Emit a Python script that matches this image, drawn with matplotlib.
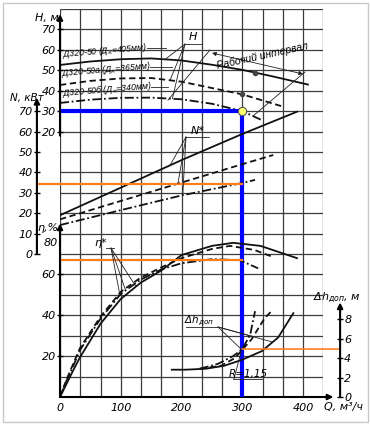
import matplotlib.pyplot as plt
import numpy as np
from matplotlib.patches import Rectangle
from matplotlib.lines import Line2D

plt.rcParams['font.family'] = ['DejaVu Sans']
plt.rcParams['font.style'] = 'italic'
plt.rcParams['mathtext.fontset'] = 'dejavusans'
narrow = ['Liberation Sans', 'DejaVu Sans']

# Напор H, м (Д320-50, Д320-50а, Д320-50б)
q_h1 = [0, 50, 100, 150, 200, 250, 300, 350, 408]
h1 = [52.6, 54.3, 55.4, 55.8, 54.8, 52.7, 50.2, 47.0, 43.0]
q_h2 = [0, 50, 100, 150, 200, 250, 300, 367]
h2 = [42.8, 44.8, 46.0, 46.2, 44.4, 41.3, 38.2, 32.2]
q_h3 = [0, 50, 100, 150, 200, 250, 300, 332]
h3 = [34.0, 35.6, 36.5, 36.6, 35.8, 33.6, 30.0, 25.6]

# Мощность N, кВт
q_n1 = [0, 100, 200, 300, 390]
n1 = [19.0, 32.5, 46.0, 58.8, 69.7]
q_n2 = [0, 100, 200, 300, 351]
n2 = [17.0, 26.0, 35.0, 44.0, 48.5]
q_n3 = [0, 100, 200, 300, 321]
n3 = [14.2, 21.5, 28.7, 34.8, 36.3]

# КПД, %
q_e1 = [0, 10, 20, 33, 67, 100, 133, 167, 200, 250, 285, 330, 390]
e1 = [0, 6, 12, 19.5, 36, 48, 56, 62, 69.5, 74, 75.5, 74, 68]
q_e2 = [0, 10, 20, 33, 67, 100, 133, 167, 200, 250, 280, 320, 351]
e2 = [0, 8, 15, 24, 39.5, 51.5, 58.5, 63.5, 68, 72.5, 74, 72, 68.5]
q_e3 = [0, 10, 20, 33, 67, 100, 133, 167, 200, 250, 296, 326]
e3 = [0, 7.5, 14, 23, 38.5, 50.5, 57.5, 62.5, 65.5, 67.5, 67, 63]

# Допустимый кавитационный запас, м
q_d1 = [184, 206, 240, 270, 299, 332, 359, 384]
d1 = [2.8, 2.8, 2.9, 3.2, 3.8, 4.7, 6.1, 8.6]
q_d2 = [230, 265, 288, 315, 337, 348]
d2 = [2.9, 3.2, 4.0, 5.9, 8.1, 8.8]
q_d3 = [230, 260, 285, 300, 313, 321]
d3 = [2.9, 3.4, 4.2, 4.9, 6.4, 8.8]

# рабочая точка
q_op = 300
h_op = 30
n_op = 34.5
e_op = 67
d_op = 4.9

h_ticks = [20, 30, 40, 50, 60, 70]
n_ticks = [0, 10, 20, 30, 40, 50, 60, 70]
e_ticks = [20, 40, 60]
d_ticks = [0, 2, 4, 6, 8]
q_ticks = [0, 100, 200, 300, 400]

W, Hpx = 370, 424
fig = plt.figure(figsize=(W / 100, Hpx / 100), dpi=100)
pos = [60 / W, 1 - 397 / Hpx, 263.3 / W, 388 / Hpx]
q_max = 1300 / 3


def fp(x, y):
    return (x / W, 1 - y / Hpx)


# рамка
fig.patches.append(Rectangle(fp(2.5, 421.5), 365 / W, 419 / Hpx, transform=fig.transFigure,
                             fill=False, ec='#c8c8c8', lw=1))

ax = fig.add_axes(pos)
ax.set_xlim(0, q_max)
ax.set_ylim(0, 19)
for s in ax.spines.values():
    s.set_visible(False)
ax.set_facecolor('none')
ax.vlines(np.arange(14) * 100 / 3, 0, 19, color='#3c3c3c', lw=0.9, zorder=0)
ax.hlines(np.arange(20), 0, q_max, color='#3c3c3c', lw=0.9, zorder=0)
ax.set_xticks(q_ticks)
ax.set_xticklabels([str(v) for v in q_ticks])
ax.tick_params(axis='x', length=0, pad=4, labelsize=8)
ax.set_yticks([])


def overlay(ylim):
    a = fig.add_axes(pos, facecolor='none')
    a.set_xlim(0, q_max)
    a.set_ylim(ylim)
    for s in a.spines.values():
        s.set_visible(False)
    a.tick_params(bottom=False, labelbottom=False, left=False, labelleft=False)
    return a


ax_h = overlay((-110, 80))
ax_n = overlay((-70, 120))
ax_e = overlay((0, 190))
ax_d = overlay((0, 39.8))

tk = dict(direction='inout', length=4, width=1, labelsize=8, pad=1)
ax_h.set_yticks(h_ticks)
ax_h.tick_params(left=True, labelleft=True, **tk)
ax_n.spines['left'].set_position(('data', -38))
ax_n.set_yticks(n_ticks)
ax_n.tick_params(left=True, labelleft=True, **tk)
ax_e.set_yticks(e_ticks)
ax_e.tick_params(left=True, labelleft=True, **tk)
ax_d.spines['right'].set_position(('data', 461))
ax_d.set_yticks(d_ticks)
ax_d.tick_params(right=True, labelright=True, **tk)

arr = dict(arrowstyle='-|>', lw=1.5, color='k', mutation_scale=8, shrinkA=0, shrinkB=0)
ax_h.annotate('', xy=(0, 77.5), xytext=(0, 18), arrowprops=arr, annotation_clip=False)
ax_n.annotate('', xy=(-38, 76.5), xytext=(-38, 0), arrowprops=arr, annotation_clip=False)
ax_e.annotate('', xy=(0, 85), xytext=(0, 0), arrowprops=arr, annotation_clip=False)
ax.annotate('', xy=(450, 0), xytext=(0, 0), arrowprops=arr, annotation_clip=False)
ax_d.annotate('', xy=(461, 9.7), xytext=(461, 0), arrowprops=arr, annotation_clip=False)

styles = [dict(ls='-'), dict(dashes=(3.5, 2)), dict(dashes=(5, 1.5, 1, 1.5))]
lw = 1.3
for a, sets in [(ax_h, [(q_h1, h1), (q_h2, h2), (q_h3, h3)]),
                (ax_n, [(q_n1, n1), (q_n2, n2), (q_n3, n3)]),
                (ax_e, [(q_e1, e1), (q_e2, e2), (q_e3, e3)]),
                (ax_d, [(q_d1, d1), (q_d2, d2), (q_d3, d3)])]:
    for (qq, vv), st in zip(sets, styles):
        a.plot(qq, vv, color='#111111', lw=lw, **st)

# рабочая точка
orange = '#ff7f1e'
ax_n.plot([-38, q_op], [n_op, n_op], color=orange, lw=1.6, clip_on=False)
ax_e.plot([0, q_op], [e_op, e_op], color=orange, lw=1.6)
ax_d.plot([q_op, 461], [d_op, d_op], color=orange, lw=1.2, clip_on=False)
ax_h.plot([0, q_op, q_op], [h_op, h_op, -110], color='#0000ff', lw=3, solid_capstyle='butt')
ax_h.plot(321, np.interp(321, q_h1, h1), 'o', color='#444', ms=3)
ax_h.plot(300, np.interp(300, q_h2, h2), 'o', color='#444', ms=3)
ax_h.plot(q_op, h_op, 'o', mfc='#ffff70', mec='#555', mew=0.8, ms=6, zorder=5)

# подписи осей
fs = 8
fig.text(*fp(47, 18), 'H, м', fontsize=fs, ha='center', va='center')
fig.text(*fp(27, 98), 'N, кВт', fontsize=7.5, ha='center', va='center')
fig.text(*fp(48, 228), 'η,%', fontsize=fs, ha='center', va='center')
fig.text(*fp(51, 243), '80', fontsize=fs, ha='center', va='center')
fig.text(*fp(337, 298), r'$\Delta h_{доп}$, м', fontsize=fs, ha='center', va='center')
fig.text(*fp(344, 407), 'Q, м³/ч', fontsize=fs, ha='center', va='center')

# марки насосов
names = ['Д320-50 (Д$_к$=405мм)', 'Д320-50а (Д$_к$=365мм)', 'Д320-50б (Д$_к$=340мм)']
for name, (x, y) in zip(names, [(105, 50.5), (106, 69.5), (107, 89.5)]):
    fig.text(*fp(x, y), name, fontsize=6.2, ha='center', va='center', rotation=4.8,
             family=narrow)
thin = dict(color='#222', lw=0.6)
for (x0, y0, x1, y1) in [(147, 48, 166, 48), (150, 67, 172, 67), (151, 87, 168, 87)]:
    fig.add_artist(Line2D([x0 / W, x1 / W], [1 - y0 / Hpx, 1 - y1 / Hpx], **thin))


def leader(a, q, qs, vs, x, y):
    a.annotate('', xy=(q, np.interp(q, qs, vs)), xycoords='data',
               xytext=fp(x, y), textcoords='figure fraction',
               arrowprops=dict(arrowstyle='-', lw=0.6, color='#222', shrinkA=0, shrinkB=0),
               annotation_clip=False)


def underline(x0, x1, y):
    fig.add_artist(Line2D([x0 / W, x1 / W], [1 - y / Hpx] * 2, **thin))


# H
fig.text(*fp(193, 37), 'H', fontsize=fs, ha='center', va='center')
underline(185, 202, 44)
leader(ax_h, 173, q_h1, h1, 185, 44)
leader(ax_h, 181, q_h2, h2, 185, 44)
leader(ax_h, 185, q_h3, h3, 185, 44)

# Рабочий интервал
fig.text(*fp(262, 56), 'Рабочий интервал', fontsize=7.6, ha='center', va='center', rotation=12.5,
         family=narrow)
ax.annotate('', xy=fp(303, 74), xytext=fp(212, 53), xycoords='figure fraction',
            textcoords='figure fraction',
            arrowprops=dict(arrowstyle='<|-|>', lw=0.6, color='#222', mutation_scale=6,
                            shrinkA=0, shrinkB=0))
for (x0, y0, x1, y1) in [(210, 50, 168, 100), (305, 72, 253, 116)]:
    fig.add_artist(Line2D([x0 / W, x1 / W], [1 - y0 / Hpx, 1 - y1 / Hpx], **thin))

# N*
fig.text(*fp(198, 131), 'N*', fontsize=fs, ha='center', va='center')
underline(185, 209, 137)
leader(ax_n, 181, q_n1, n1, 186, 137)
leader(ax_n, 194, q_n2, n2, 186, 137)
leader(ax_n, 202, q_n3, n3, 186, 137)

# η*
fig.text(*fp(101, 243), 'η*', fontsize=fs, ha='center', va='center')
underline(106, 114, 248)
leader(ax_e, 125, q_e1, e1, 111, 248)
leader(ax_e, 98, q_e2, e2, 111, 248)
leader(ax_e, 108, q_e3, e3, 111, 248)

# Δh доп
fig.text(*fp(199, 321), r'$\Delta h_{доп}$', fontsize=7.5, ha='center', va='center')
underline(186, 218, 327)
leader(ax_d, 350, q_d1, d1, 218, 327)
leader(ax_d, 318, q_d2, d2, 218, 327)
leader(ax_d, 299, q_d3, d3, 218, 327)

# R
fig.text(*fp(248, 374), 'R=1,15', fontsize=7.5, ha='center', va='center')
underline(233, 262, 379)
fig.add_artist(Line2D([234 / W, 241 / W], [1 - 379 / Hpx, 1 - 352 / Hpx], **thin))

fig.savefig('out.png', dpi=100)
